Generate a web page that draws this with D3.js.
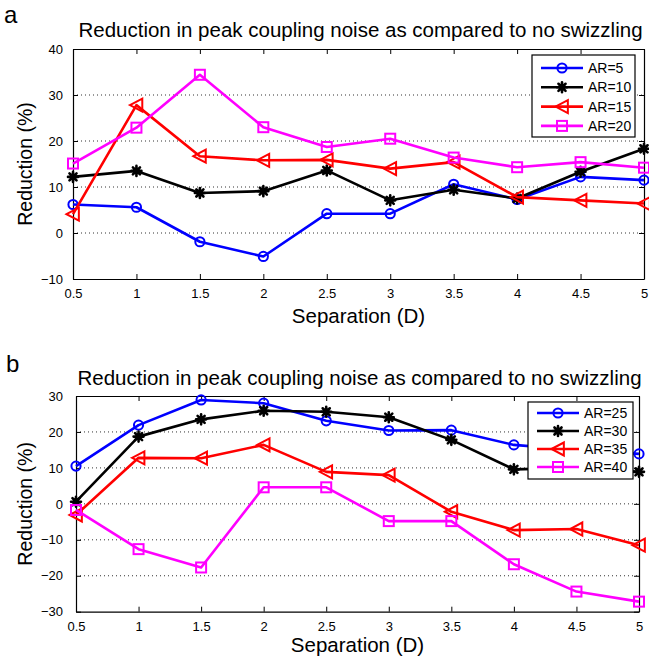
<!DOCTYPE html>
<html>
<head>
<meta charset="utf-8">
<script src="https://cdn.jsdelivr.net/npm/d3@7"></script>
<style>
  body { margin: 0; background: #fff; }
  svg { display: block; font-family: "Liberation Sans", Arial, sans-serif; }
</style>
</head>
<body>
<svg id="chart" width="649" height="661"></svg>
<script>
'use strict';

// separation values shared by both panels
let separation = [0.5, 1, 1.5, 2, 2.5, 3, 3.5, 4, 4.5, 5];
let xTicks = [0.5, 1, 1.5, 2, 2.5, 3, 3.5, 4, 4.5, 5];

// panel a
let seriesA = ['AR=5', 'AR=10', 'AR=15', 'AR=20'];
let ar5 = [6.2, 5.6, -1.9, -5.1, 4.2, 4.2, 10.6, 7.3, 12.2, 11.5];
let ar10 = [12.2, 13.5, 8.7, 9.1, 13.6, 7.1, 9.4, 7.5, 13.3, 18.3];
let ar15 = [4.1, 27.8, 16.7, 15.8, 15.9, 14.0, 15.4, 7.8, 7.1, 6.4];
let ar20 = [15.1, 22.9, 34.4, 23.0, 18.7, 20.5, 16.4, 14.3, 15.4, 14.2];
let yTicksA = [-10, 0, 10, 20, 30, 40];

// panel b
let seriesB = ['AR=25', 'AR=30', 'AR=35', 'AR=40'];
let ar25 = [10.5, 21.9, 28.9, 28.0, 23.1, 20.4, 20.5, 16.4, 15.0, 13.9];
let ar30 = [0.6, 18.7, 23.5, 25.9, 25.6, 24.1, 17.8, 9.6, 10.0, 8.9];
let ar35 = [-3.1, 12.8, 12.7, 16.4, 8.9, 8.0, -2.2, -7.3, -7.0, -11.5];
let ar40 = [-1.7, -12.6, -17.7, 4.6, 4.6, -4.8, -4.8, -16.8, -24.4, -27.2];
let yTicksB = [-30, -20, -10, 0, 10, 20, 30];

let titleText = 'Reduction in peak coupling noise as compared to no swizzling';

let colors = ['#0000ff', '#000000', '#ff0000', '#ff00ff'];
let shapes = ['circle', 'star', 'triangle', 'square'];

let svg = d3.select('#chart');

function drawMarker(g, shape, color, x, y) {
	if (shape === 'circle') {
		g.append('circle')
			.attr('cx', x).attr('cy', y).attr('r', 4.6)
			.attr('fill', 'none').attr('stroke', color).attr('stroke-width', 2);
	} else if (shape === 'square') {
		g.append('rect')
			.attr('x', x - 5).attr('y', y - 5).attr('width', 10).attr('height', 10)
			.attr('fill', 'none').attr('stroke', color).attr('stroke-width', 2);
	} else if (shape === 'triangle') {
		let s = 6.5;
		g.append('path')
			.attr('d', `M${x - s},${y}L${x + s * 0.9},${y - s}L${x + s * 0.9},${y + s}Z`)
			.attr('fill', 'none').attr('stroke', color).attr('stroke-width', 2);
	} else {
		let s = 5;
		let d = '';
		for (let a = 0; a < 180; a += 45) {
			let r = a * Math.PI / 180;
			let dx = s * Math.cos(r), dy = s * Math.sin(r);
			d += `M${x - dx},${y - dy}L${x + dx},${y + dy}`;
		}
		g.append('path')
			.attr('d', d).attr('stroke', color).attr('stroke-width', 2.6)
			.attr('stroke-linecap', 'round');
	}
}

function drawPanel(opt) {
	let x = d3.scaleLinear().domain([0.5, 5]).range(opt.xRange);
	let y = d3.scaleLinear().domain(opt.yDomain).range(opt.yRange);
	let g = svg.append('g');

	let [x0, x1] = opt.xRange;
	let [yb, yt] = opt.yRange;

	// dotted grid (inner ticks only)
	g.selectAll('line.grid')
		.data(opt.yTicks.slice(1, -1))
		.enter().append('line')
		.attr('x1', x0).attr('x2', x1)
		.attr('y1', d => y(d)).attr('y2', d => y(d))
		.attr('stroke', '#333').attr('stroke-width', 1)
		.attr('stroke-dasharray', '1,3');

	// axes with inward ticks
	let bottom = g.append('g').attr('transform', `translate(0,${yb})`)
		.call(d3.axisBottom(x).tickValues(xTicks).tickSizeInner(-5).tickSizeOuter(0)
			.tickPadding(10).tickFormat(d3.format('')));
	let top = g.append('g').attr('transform', `translate(0,${yt})`)
		.call(d3.axisTop(x).tickValues(xTicks).tickSizeInner(-5).tickSizeOuter(0)
			.tickFormat(''));
	let left = g.append('g').attr('transform', `translate(${x0},0)`)
		.call(d3.axisLeft(y).tickValues(opt.yTicks).tickSizeInner(-5).tickSizeOuter(0)
			.tickPadding(opt.yPad));
	let right = g.append('g').attr('transform', `translate(${x1},0)`)
		.call(d3.axisRight(y).tickValues(opt.yTicks).tickSizeInner(-5).tickSizeOuter(0)
			.tickFormat(''));

	[bottom, top, left, right].forEach(a => {
		a.select('.domain').attr('stroke', '#000').attr('stroke-width', 1.2);
		a.selectAll('.tick line').attr('stroke', '#000').attr('stroke-width', 1);
		a.selectAll('text').attr('font-size', 13).attr('fill', '#000')
			.attr('font-family', '"Liberation Sans", Arial, sans-serif');
	});
	left.selectAll('text').attr('dy', '0.32em');

	// series
	let line = d3.line().x((d, i) => x(separation[i])).y(d => y(d));
	opt.series.forEach((vals, k) => {
		g.append('path')
			.datum(vals)
			.attr('d', line)
			.attr('fill', 'none')
			.attr('stroke', colors[k])
			.attr('stroke-width', 2.6)
			.attr('stroke-linejoin', 'round');
		let mg = g.append('g');
		vals.forEach((v, i) => drawMarker(mg, shapes[k], colors[k], x(separation[i]), y(v)));
	});

	// legend
	let L = opt.legend;
	let lg = g.append('g');
	lg.append('rect')
		.attr('x', L.x).attr('y', L.y).attr('width', L.w).attr('height', L.h)
		.attr('fill', '#fff').attr('stroke', '#000').attr('stroke-width', 1.2);
	opt.names.forEach((name, k) => {
		let ry = L.y + L.first + k * L.step;
		lg.append('line')
			.attr('x1', L.x + 9).attr('x2', L.x + 51)
			.attr('y1', ry).attr('y2', ry)
			.attr('stroke', colors[k]).attr('stroke-width', 2.6);
		drawMarker(lg, shapes[k], colors[k], L.x + 30, ry);
		lg.append('text')
			.attr('x', L.x + 56).attr('y', ry)
			.attr('dy', '0.36em')
			.attr('font-size', 14)
			.text(name);
	});

	// titles and labels
	g.append('text')
		.attr('x', opt.label.x).attr('y', opt.label.y)
		.attr('font-size', 24)
		.text(opt.label.text);
	g.append('text')
		.attr('x', (x0 + x1) / 2 + 2).attr('y', opt.titleY)
		.attr('text-anchor', 'middle')
		.attr('font-size', 20.5)
		.text(titleText);
	g.append('text')
		.attr('x', (x0 + x1) / 2).attr('y', opt.xLabelY)
		.attr('text-anchor', 'middle')
		.attr('font-size', 20.5)
		.text('Separation (D)');
	g.append('text')
		.attr('transform', `translate(32,${(yb + yt) / 2}) rotate(-90)`)
		.attr('text-anchor', 'middle')
		.attr('font-size', 19.5)
		.text('Reduction (%)');
}

drawPanel({
	xRange: [73, 644],
	yRange: [279, 49],
	yDomain: [-10, 40],
	yTicks: yTicksA,
	yPad: 10,
	series: [ar5, ar10, ar15, ar20],
	names: seriesA,
	legend: {x: 532, y: 55, w: 103, h: 82, first: 13, step: 19.3},
	label: {x: 4, y: 23, text: 'a'},
	titleY: 37,
	xLabelY: 323
});

drawPanel({
	xRange: [76, 639],
	yRange: [611.7, 396],
	yDomain: [-30, 30],
	yTicks: yTicksB,
	yPad: 13,
	series: [ar25, ar30, ar35, ar40],
	names: seriesB,
	legend: {x: 528, y: 402, w: 105, h: 77, first: 11, step: 18},
	label: {x: 6, y: 372, text: 'b'},
	titleY: 385,
	xLabelY: 652
});
</script>
</body>
</html>
